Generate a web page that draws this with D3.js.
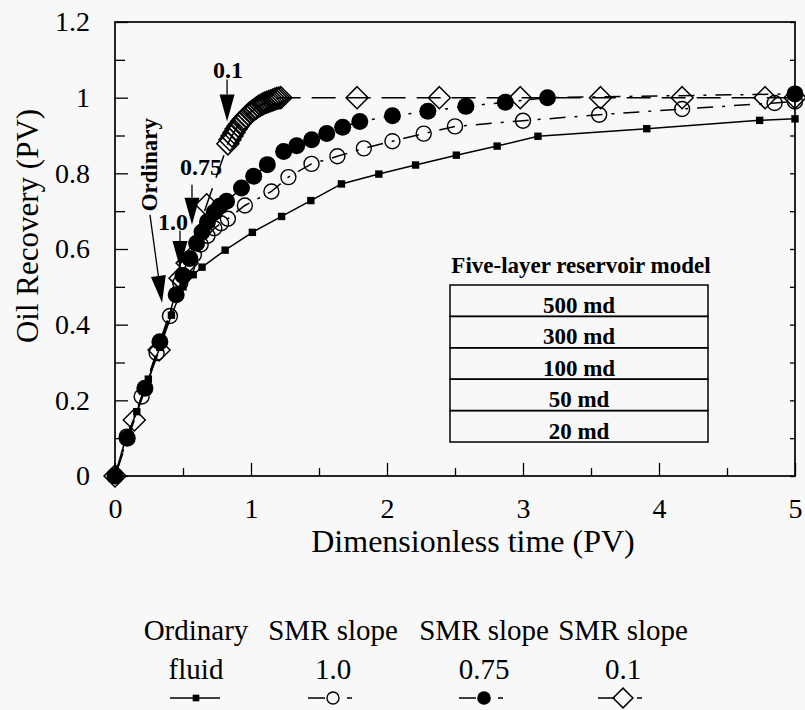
<!DOCTYPE html>
<html>
<head>
<meta charset="utf-8">
<script src="https://cdn.jsdelivr.net/npm/d3@7"></script>
<style>
  body { margin: 0; background: #f8f8f8; }
  text { font-family: "Liberation Serif", "Times New Roman", serif; fill: #000; }
</style>
</head>
<body>
<script>
// values
const ordinaryTime = [0, 0.075, 0.16, 0.245, 0.33, 0.415, 0.5, 0.575, 0.64, 0.81, 1.01, 1.225, 1.44, 1.665, 1.94, 2.21, 2.51, 2.81, 3.11, 3.91, 4.74, 5.0]
const ordinaryRec = [0, 0.095, 0.17, 0.256, 0.34, 0.425, 0.5, 0.532, 0.552, 0.597, 0.644, 0.686, 0.728, 0.772, 0.798, 0.822, 0.848, 0.872, 0.898, 0.918, 0.94, 0.944]

const smr10Time = [0, 0.086, 0.196, 0.306, 0.404, 0.48, 0.53, 0.58, 0.63, 0.68, 0.73, 0.78, 0.83, 0.955, 1.15, 1.275, 1.445, 1.635, 1.83, 2.04, 2.27, 2.5, 3.0, 3.56, 4.17, 4.85, 5.0]
const smr10Rec = [0, 0.104, 0.21, 0.325, 0.423, 0.51, 0.553, 0.585, 0.612, 0.635, 0.655, 0.668, 0.68, 0.715, 0.752, 0.79, 0.825, 0.845, 0.866, 0.885, 0.905, 0.924, 0.939, 0.955, 0.97, 0.986, 0.99]

const smr075Time = [0, 0.09, 0.22, 0.33, 0.45, 0.5, 0.55, 0.6, 0.64, 0.68, 0.73, 0.77, 0.82, 0.93, 1.02, 1.12, 1.24, 1.336, 1.446, 1.557, 1.674, 1.8, 2.04, 2.3, 2.58, 2.87, 3.18, 5.0]
const smr075Rec = [0, 0.1, 0.232, 0.355, 0.479, 0.53, 0.575, 0.615, 0.645, 0.672, 0.697, 0.713, 0.726, 0.761, 0.792, 0.823, 0.858, 0.873, 0.889, 0.905, 0.922, 0.937, 0.952, 0.964, 0.977, 0.988, 1.0, 1.01]

// slope 0.1: dense run of points between 0.83 and 1.22 PV
const smr01Time = [0, 0.142, 0.324, 0.478, 0.53, 0.674,
  0.83, 0.845, 0.86, 0.875, 0.89, 0.905, 0.92, 0.935, 0.95, 0.965, 0.98, 0.995, 1.01, 1.025,
  1.04, 1.055, 1.07, 1.085, 1.1, 1.115, 1.13, 1.145, 1.16, 1.175, 1.19, 1.205, 1.22,
  1.78, 2.385, 2.98, 3.57, 4.17, 4.78, 5.0]
const smr01Rec = [0, 0.148, 0.333, 0.523, 0.563, 0.717,
  0.878, 0.889, 0.899, 0.908, 0.917, 0.925, 0.932, 0.939, 0.945, 0.951, 0.956, 0.961, 0.965, 0.969,
  0.973, 0.977, 0.98, 0.983, 0.986, 0.988, 0.99, 0.992, 0.994, 0.996, 0.998, 0.999, 1.0,
  1.0, 1.0, 1.0, 1.0, 1.0, 1.0, 1.0]

const xTicks = [0, 1, 2, 3, 4, 5]
const xTickLabels = ['0', '1', '2', '3', '4', '5']
const yTicks = [0, 0.2, 0.4, 0.6, 0.8, 1.0, 1.2]
const yTickLabels = ['0', '0.2', '0.4', '0.6', '0.8', '1', '1.2']

const legendLine1 = ['Ordinary', 'SMR slope', 'SMR slope', 'SMR slope']
const legendLine2 = ['fluid', '1.0', '0.75', '0.1']

const layers = ['500 md', '300 md', '100 md', '50 md', '20 md']

// annotation label + arrow (start, tip) in data units
const notes = [
  { text: '0.1', tx: 0.831, ty: 1.074, x1: 0.824, y1: 1.048, x2: 0.824, y2: 0.937 },
  { text: '0.75', tx: 0.632, ty: 0.817, x1: 0.566, y1: 0.770, x2: 0.566, y2: 0.664 },
  { text: '1.0', tx: 0.426, ty: 0.672, x1: 0.478, y1: 0.648, x2: 0.478, y2: 0.550 }
]
const ordinaryNote = { text: 'Ordinary', tx: 0.25, ty: 0.823, x1: 0.257, y1: 0.690, x2: 0.346, y2: 0.458 }

//-----------------------------------------------------------------------------

const width = 805
const height = 710
const plotLeft = 115
const plotRight = 795
const plotTop = 22
const plotBottom = 476

const x = d3.scaleLinear().domain([0, 5]).range([plotLeft, plotRight])
const y = d3.scaleLinear().domain([0, 1.2]).range([plotBottom, plotTop])

const svg = d3.select('body')
  .append('svg')
  .attr('width', width)
  .attr('height', height)

svg.append('rect')
  .attr('width', width)
  .attr('height', height)
  .attr('fill', '#f8f8f8')

// axes, ticks pointing inwards
svg.append('g')
  .attr('transform', `translate(0,${plotBottom})`)
  .call(d3.axisBottom(x).tickValues(xTicks).tickSize(-13).tickPadding(22)
    .tickFormat((d, i) => xTickLabels[i]))
svg.append('g')
  .attr('transform', `translate(0,${plotBottom})`)
  .call(d3.axisBottom(x).tickValues([0.5, 1.5, 2.5, 3.5, 4.5]).tickSize(-8).tickFormat(''))

svg.append('g')
  .attr('transform', `translate(${plotLeft},0)`)
  .call(d3.axisLeft(y).tickValues(yTicks).tickSize(-13).tickPadding(25)
    .tickFormat((d, i) => yTickLabels[i]))
svg.append('g')
  .attr('transform', `translate(${plotLeft},0)`)
  .call(d3.axisLeft(y).tickValues([0.1, 0.3, 0.5, 0.7, 0.9, 1.1]).tickSize(-10).tickFormat(''))
svg.append('g')
  .attr('transform', `translate(${plotRight},0)`)
  .call(d3.axisRight(y).ticks(12).tickSize(-5).tickFormat(''))

svg.selectAll('.domain').remove()
svg.selectAll('.tick line').attr('stroke', '#000').attr('stroke-width', 1.3)
svg.selectAll('.tick text')
  .style('font-family', '"Liberation Serif", serif')
  .style('font-size', '28px')
  .attr('fill', '#000')

svg.append('rect')
  .attr('x', plotLeft)
  .attr('y', plotTop)
  .attr('width', plotRight - plotLeft)
  .attr('height', plotBottom - plotTop)
  .attr('fill', 'none')
  .attr('stroke', '#000')
  .attr('stroke-width', 1.7)

svg.append('text')
  .attr('x', 473)
  .attr('y', 552)
  .attr('text-anchor', 'middle')
  .style('font-size', '32px')
  .text('Dimensionless time (PV)')

svg.append('text')
  .attr('transform', 'translate(38,226) rotate(-90)')
  .attr('text-anchor', 'middle')
  .style('font-size', '31px')
  .text('Oil Recovery (PV)')

// inset: layered reservoir
svg.append('text')
  .attr('x', 581)
  .attr('y', 273)
  .attr('text-anchor', 'middle')
  .style('font-size', '23px')
  .style('font-weight', 'bold')
  .text('Five-layer reservoir model')

const rowH = 31.4
const table = svg.append('g').attr('transform', 'translate(450,285)')
table.selectAll('rect')
  .data(layers)
  .enter()
  .append('rect')
  .attr('x', 0)
  .attr('y', (d, i) => i * rowH)
  .attr('width', 258)
  .attr('height', rowH)
  .attr('fill', 'none')
  .attr('stroke', '#000')
  .attr('stroke-width', 1.5)
table.selectAll('text')
  .data(layers)
  .enter()
  .append('text')
  .attr('x', 129)
  .attr('y', (d, i) => i * rowH + 28)
  .attr('text-anchor', 'middle')
  .style('font-size', '23px')
  .style('font-weight', 'bold')
  .text(d => d)

// series
const zip = (xs, ys) => xs.map((t, i) => [t, ys[i]])
const line = d3.line().x(d => x(d[0])).y(d => y(d[1]))

const series = [
  { key: 'smr01', pts: zip(smr01Time, smr01Rec), dash: '24,11', marker: 'diamond' },
  { key: 'smr10', pts: zip(smr10Time, smr10Rec), dash: '16,9,3,9', marker: 'open' },
  { key: 'smr075', pts: zip(smr075Time, smr075Rec), dash: '16,9,3,9', marker: 'filled' },
  { key: 'ordinary', pts: zip(ordinaryTime, ordinaryRec), dash: null, marker: 'square' }
]

function drawMarker (g, kind, cx, cy, s) {
  if (kind === 'diamond') {
    const h = 11 * s
    g.append('path')
      .attr('d', `M${cx},${cy - h}L${cx + h},${cy}L${cx},${cy + h}L${cx - h},${cy}Z`)
      .attr('fill', 'none')
      .attr('stroke', '#000')
      .attr('stroke-width', 1.5)
  } else if (kind === 'open') {
    g.append('circle')
      .attr('cx', cx).attr('cy', cy).attr('r', 7.5 * s)
      .attr('fill', 'none')
      .attr('stroke', '#000')
      .attr('stroke-width', 1.4)
  } else if (kind === 'filled') {
    g.append('circle')
      .attr('cx', cx).attr('cy', cy).attr('r', 8.5 * s)
      .attr('fill', '#000')
  } else {
    const h = 3.7 * s
    g.append('rect')
      .attr('x', cx - h).attr('y', cy - h)
      .attr('width', 2 * h).attr('height', 2 * h)
      .attr('fill', '#000')
  }
}

series.forEach(s => {
  const g = svg.append('g').attr('class', s.key)
  g.append('path')
    .attr('d', line(s.pts))
    .attr('fill', 'none')
    .attr('stroke', '#000')
    .attr('stroke-width', 1.5)
    .attr('stroke-dasharray', s.dash)
  s.pts.forEach(p => drawMarker(g, s.marker, x(p[0]), y(p[1]), 1))
})

// annotations
function arrow (n, headLen, headW) {
  const px1 = x(n.x1), py1 = y(n.y1), px2 = x(n.x2), py2 = y(n.y2)
  const len = Math.hypot(px2 - px1, py2 - py1)
  const ux = (px2 - px1) / len, uy = (py2 - py1) / len
  const bx = px2 - ux * headLen, by = py2 - uy * headLen
  svg.append('line')
    .attr('x1', px1).attr('y1', py1).attr('x2', bx).attr('y2', by)
    .attr('stroke', '#000').attr('stroke-width', 1.3)
  svg.append('path')
    .attr('d', `M${bx - uy * headW / 2},${by + ux * headW / 2}L${bx + uy * headW / 2},${by - ux * headW / 2}L${px2},${py2}Z`)
    .attr('fill', '#000')
}

notes.forEach(n => {
  svg.append('text')
    .attr('x', x(n.tx))
    .attr('y', y(n.ty) + 8)
    .attr('text-anchor', 'middle')
    .style('font-size', '24px')
    .style('font-weight', 'bold')
    .text(n.text)
  arrow(n, 27, 15)
})

svg.append('text')
  .attr('transform', `translate(${x(ordinaryNote.tx) + 8},${y(ordinaryNote.ty)}) rotate(-90)`)
  .attr('text-anchor', 'middle')
  .style('font-size', '23px')
  .style('font-weight', 'bold')
  .text(ordinaryNote.text)
arrow(ordinaryNote, 27, 15)

// legend below the plot
const legendX = [196, 333, 484, 623]
const legendKinds = ['square', 'open', 'filled', 'diamond']
const legend = svg.append('g')
legendX.forEach((cx, i) => {
  legend.append('text')
    .attr('x', cx).attr('y', 640)
    .attr('text-anchor', 'middle')
    .style('font-size', '29px')
    .text(legendLine1[i])
  legend.append('text')
    .attr('x', cx).attr('y', 679)
    .attr('text-anchor', 'middle')
    .style('font-size', '29px')
    .text(legendLine2[i])
  const sy = 698
  if (i === 0) {
    legend.append('line')
      .attr('x1', cx - 26).attr('x2', cx + 24).attr('y1', sy).attr('y2', sy)
      .attr('stroke', '#000').attr('stroke-width', 1.5)
    drawMarker(legend, 'square', cx, sy, 0.9)
  } else {
    legend.append('line')
      .attr('x1', cx - 25).attr('x2', cx - 8).attr('y1', sy).attr('y2', sy)
      .attr('stroke', '#000').attr('stroke-width', 1.5)
    legend.append('line')
      .attr('x1', cx + 14).attr('x2', cx + 19).attr('y1', sy).attr('y2', sy)
      .attr('stroke', '#000').attr('stroke-width', 1.5)
    drawMarker(legend, legendKinds[i], cx, sy, i === 3 ? 0.9 : 0.8)
  }
})
</script>
</body>
</html>
